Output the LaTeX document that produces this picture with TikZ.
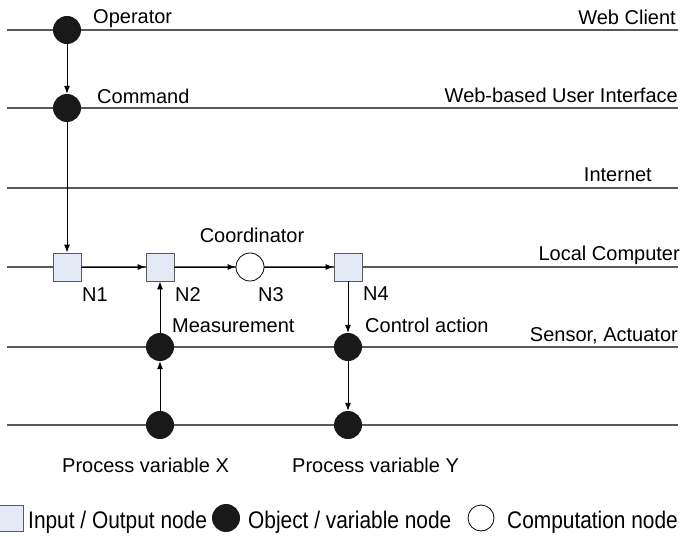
\documentclass[tikz,border=0pt]{standalone}
\usepackage{fontspec}
\setmainfont{Liberation Sans}
\newfontfamily\legfont[FakeStretch=0.87]{Liberation Sans}
\usetikzlibrary{arrows.meta}
\definecolor{iofill}{RGB}{228,234,245}

\begin{document}
\begin{tikzpicture}[x=1pt,y=-1pt,
  flow/.style={-{Latex[length=8pt,width=6pt]},line width=0.9pt,black},
  layer/.style={line width=1.2pt,gray!70!black},
  lbl/.style={inner sep=0pt,font=\fontsize{20}{24}\selectfont},
  leglbl/.style={inner sep=0pt,font=\legfont\fontsize{24}{28}\selectfont},
  ionode/.style={rectangle,draw=gray!70!black,line width=0.8pt,fill=iofill,minimum size=28pt,inner sep=0pt},
  objnode/.style={circle,fill=black!90,minimum size=28pt,inner sep=0pt},
  compnode/.style={circle,draw=black,line width=0.8pt,fill=white,minimum size=28pt,inner sep=0pt}
]
  \useasboundingbox (0,0) rectangle (690,537);

  % layers
  \foreach \y in {30,108,188,267,347,425} {\draw[layer] (7,\y)--(678,\y);}
  \node[lbl,anchor=base east] (lWeb) at (676,25) {Web Client};
  \node[lbl,anchor=base east] (lUI) at (678,103) {Web-based User Interface};
  \node[lbl,anchor=base east] (lNet) at (652,182) {Internet};
  \node[lbl,anchor=base east] (lLocal) at (680,260) {Local Computer};
  \node[lbl,anchor=base east] (lSens) at (678,341) {Sensor, Actuator};

  % nodes
  \node[objnode] (op) at (67,30) {};
  \node[objnode] (cmd) at (67,108) {};
  \node[ionode] (N1) at (67,267) {};
  \node[ionode] (N2) at (160,267) {};
  \node[compnode] (N3) at (250,267) {};
  \node[ionode] (N4) at (348,267) {};
  \node[objnode] (meas) at (160,347) {};
  \node[objnode] (ctrl) at (348,347) {};
  \node[objnode] (pvX) at (160,425) {};
  \node[objnode] (pvY) at (348,425) {};

  \node[lbl,anchor=base west] (tOp) at (93,24) {Operator};
  \node[lbl,anchor=base west] (tCmd) at (97,104) {Command};
  \node[lbl,anchor=base] (tCoord) at (252,243) {Coordinator};
  \node[lbl,anchor=base west] (tN1) at (82,301) {N1};
  \node[lbl,anchor=base west] (tN2) at (175,301) {N2};
  \node[lbl,anchor=base west] (tN3) at (258,301) {N3};
  \node[lbl,anchor=base west] (tN4) at (363,300) {N4};
  \node[lbl,anchor=base west] (tMeas) at (172,332) {Measurement};
  \node[lbl,anchor=base west] (tCtrl) at (365,332) {Control action};
  \node[lbl,anchor=base west] (tX) at (62,472) {Process variable X};
  \node[lbl,anchor=base west] (tY) at (292,472) {Process variable Y};

  \draw[flow] (op)--(cmd);
  \draw[flow] (cmd)--(N1);
  \draw[flow] (N1)--(N2);
  \draw[flow] (N2)--(N3);
  \draw[flow] (N3)--(N4);
  \draw[flow] (N4)--(ctrl);
  \draw[flow] (ctrl)--(pvY);
  \draw[flow] (pvX)--(meas);
  \draw[flow] (meas)--(N2);

  % legend
  \node[ionode,minimum width=26pt,minimum height=26pt] (legIO) at (10,518) {};
  \node[leglbl,anchor=base west] (legIOt) at (28,528) {Input / Output node};
  \node[objnode,minimum width=28pt,minimum height=26pt] (legObj) at (226,518) {};
  \node[leglbl,anchor=base west] (legObjt) at (248,528) {Object / variable node};
  \node[compnode,minimum size=26pt] (legComp) at (481,518) {};
  \node[leglbl,anchor=base west] (legCompt) at (507,528) {Computation node};
\end{tikzpicture}
\end{document}
